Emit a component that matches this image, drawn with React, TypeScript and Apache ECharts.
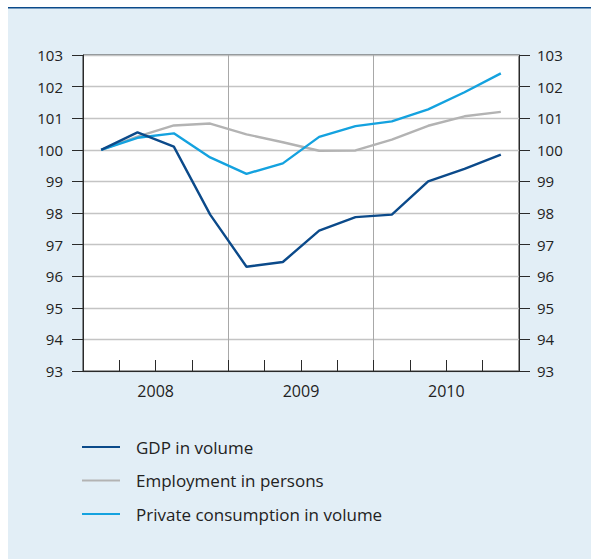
import React, { useEffect, useRef } from "react";
import * as echarts from "echarts";

const quarters = [
  "2008 Q1", "2008 Q2", "2008 Q3", "2008 Q4",
  "2009 Q1", "2009 Q2", "2009 Q3", "2009 Q4",
  "2010 Q1", "2010 Q2", "2010 Q3", "2010 Q4",
];
const years = ["2008", "2009", "2010"];
const gdp = [100, 100.55, 100.1, 97.95, 96.3, 96.45, 97.44, 97.87, 97.95, 99.0, 99.4, 99.85];
const employment = [100, 100.42, 100.77, 100.83, 100.49, 100.24, 99.97, 99.98, 100.32, 100.76, 101.06, 101.2];
const consumption = [100, 100.38, 100.52, 99.76, 99.24, 99.57, 100.41, 100.75, 100.9, 101.28, 101.82, 102.42];
const seriesNames = ["GDP in volume", "Employment in persons", "Private consumption in volume"];
const seriesColors = ["#0b4a8a", "#b3b3b3", "#14a2df"];

const FONT = "'Open Sans', 'Noto Sans', sans-serif";
const TXT = "#222222";

export default function App() {
  const ref = useRef<HTMLDivElement>(null);
  useEffect(() => {
    if (!ref.current) return;
    const chart = echarts.init(ref.current, null, { renderer: "svg" });
    const yAxisBase = {
      type: "value",
      min: 93,
      max: 103,
      interval: 1,
      axisLine: { show: true, lineStyle: { color: "#2a2a2a", width: 1 } },
      axisTick: { show: true, inside: false, length: 11, lineStyle: { color: "#2a2a2a", width: 1 } },
      axisLabel: { color: TXT, fontSize: 15, fontFamily: FONT },
    };
    chart.setOption({
      animation: false,
      backgroundColor: "#e2eef6",
      textStyle: { fontFamily: FONT },
      graphic: [
        {
          type: "rect",
          left: 0,
          top: 0,
          shape: { width: 583, height: 1.6 },
          style: { fill: "#0b4a8a" },
          silent: true,
        },
      ],
      grid: {
        left: 75,
        right: 72,
        top: 48,
        bottom: 188,
        show: true,
        backgroundColor: "#ffffff",
        borderColor: "#2a2a2a",
        borderWidth: 1,
      },
      legend: {
        orient: "vertical",
        left: 74,
        top: 430,
        padding: 0,
        itemWidth: 38,
        itemHeight: 2,
        itemGap: 13.5,
        icon: "rect",
        data: seriesNames,
        textStyle: {
          color: TXT,
          fontSize: 17,
          fontFamily: FONT,
          lineHeight: 20,
          padding: [0, 0, 0, 11],
        },
      },
      xAxis: [
        {
          type: "category",
          data: quarters,
          boundaryGap: true,
          position: "bottom",
          axisLine: { show: true, lineStyle: { color: "#2a2a2a", width: 1 } },
          axisTick: {
            show: true,
            inside: true,
            length: 11,
            interval: 0,
            lineStyle: { color: "#2a2a2a", width: 1 },
          },
          axisLabel: { show: false },
          splitLine: {
            show: true,
            interval: (index: number) => index === 4 || index === 8,
            lineStyle: { color: "#a8a8a8", width: 1 },
          },
        },
        {
          type: "category",
          data: years,
          boundaryGap: true,
          position: "bottom",
          axisLine: { show: false },
          axisTick: { show: false },
          splitLine: { show: false },
          axisLabel: { color: TXT, fontSize: 16, fontFamily: FONT, margin: 12 },
        },
      ],
      yAxis: [
        {
          ...yAxisBase,
          position: "left",
          axisLabel: { ...yAxisBase.axisLabel, margin: 20 },
          splitLine: { show: true, lineStyle: { color: "#c4c4c4", width: 1.3 } },
        },
        {
          ...yAxisBase,
          position: "right",
          axisLabel: { ...yAxisBase.axisLabel, margin: 18 },
          splitLine: { show: false },
        },
      ],
      series: [
        { name: seriesNames[1], data: employment, color: seriesColors[1] },
        { name: seriesNames[2], data: consumption, color: seriesColors[2] },
        { name: seriesNames[0], data: gdp, color: seriesColors[0] },
      ].map((s) => ({
        type: "line",
        name: s.name,
        data: s.data,
        xAxisIndex: 0,
        yAxisIndex: 0,
        symbol: "none",
        smooth: false,
        lineStyle: { color: s.color, width: 2.4 },
        itemStyle: { color: s.color },
      })),
    });
    return () => chart.dispose();
  }, []);
  return (
    <div
      ref={ref}
      style={{ position: "absolute", left: 8, top: 7, width: 583, height: 552 }}
    />
  );
}
